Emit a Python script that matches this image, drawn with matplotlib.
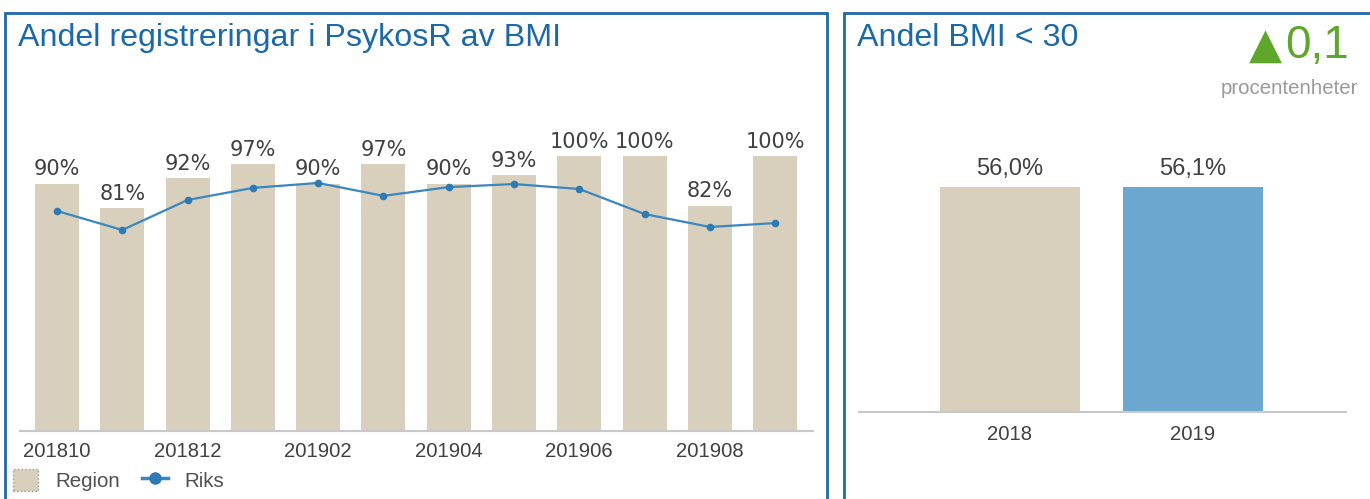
import matplotlib
matplotlib.use("Agg")
import matplotlib.pyplot as plt
from matplotlib.patches import Rectangle
import numpy as np

# data
months = ["201810", "201811", "201812", "201901", "201902", "201903",
          "201904", "201905", "201906", "201907", "201908", "201909"]
region = [90, 81, 92, 97, 90, 97, 90, 93, 100, 100, 82, 100]
riks = [80.0, 73.1, 84.0, 88.4, 90.2, 85.5, 88.7, 89.8, 88.0, 78.9, 74.2, 75.6]
years = ["2018", "2019"]
bmi_share = [56.0, 56.1]
change_text = "0,1"

BEIGE = "#D8D0BC"
BLUE_LINE = "#3A87BF"
BLUE_BAR = "#6BA7CE"
TITLE_BLUE = "#1B69A8"
BORDER_BLUE = "#1F69A6"
TEXT = "#404040"
AXIS_GREY = "#C8C8C8"
GREEN = "#5EA72A"

W, H = 1370, 499
fig = plt.figure(figsize=(W / 100, H / 100), dpi=100)


def px_axes(x0, y0, x1, y1):
    # axes from pixel box (top-left origin)
    return fig.add_axes([x0 / W, 1 - y1 / H, (x1 - x0) / W, (y1 - y0) / H])


# panel borders
fig.patches.append(Rectangle((5 / W, -0.05), (827 - 5) / W, 1.05 - 13 / H,
                             transform=fig.transFigure, fill=False,
                             edgecolor=BORDER_BLUE, linewidth=2))
fig.patches.append(Rectangle((844 / W, -0.05), 0.5, 1.05 - 13 / H,
                             transform=fig.transFigure, fill=False,
                             edgecolor=BORDER_BLUE, linewidth=2))

# ---- left chart ----
ax = px_axes(20, 101, 813, 431)
x = np.arange(len(months))
bars = ax.bar(x, region, width=0.674, color=BEIGE, zorder=2)
line, = ax.plot(x, riks, color=BLUE_LINE, linewidth=1.6, marker="o", markersize=4.5,
                markerfacecolor="#2E7AB5", markeredgecolor="#2E7AB5", zorder=3)
for xi, v in zip(x, region):
    ax.text(xi, v + 1.5, f"{v}%", ha="center", va="bottom", fontsize=15,
            color=TEXT, family="DejaVu Sans")
ax.set_xlim(-0.567, 11.58)
ax.set_ylim(0, 120)
ax.set_xticks(x[::2])
ax.set_xticklabels(months[::2], fontsize=14.6, color=TEXT, family="Liberation Sans")
ax.tick_params(axis="x", length=0, pad=8)
ax.set_yticks([])
for s in ["top", "right", "left"]:
    ax.spines[s].set_visible(False)
ax.spines["bottom"].set_color(AXIS_GREY)
ax.spines["bottom"].set_linewidth(1.5)
ax.patch.set_alpha(0)

leg = fig.legend([bars, line], ["Region", "Riks"], loc="center left",
                 bbox_to_anchor=(13 / W, 1 - 480 / H), ncol=2,
                 frameon=False, prop={"family": "Liberation Sans", "size": 14.8},
                 handlelength=1.23, handleheight=1.23, handletextpad=0.84,
                 columnspacing=1.07, labelcolor="#505050",
                 borderpad=0, borderaxespad=0)
leg.legend_handles[0].set_edgecolor("#999999")
leg.legend_handles[0].set_linestyle(":")
leg.legend_handles[1].set_markersize(8)
leg.legend_handles[1].set_linewidth(2.5)

fig.text(18 / W, 1 - 38 / H, "Andel registreringar i PsykosR av BMI", fontsize=23.2,
         color=TITLE_BLUE, family="Liberation Sans", va="center", ha="left")

# ---- right chart ----
ax2 = px_axes(859, 120, 1346, 412)
xx = np.arange(len(years))
ax2.bar(xx, bmi_share, width=0.77, color=[BEIGE, BLUE_BAR], zorder=2)
for xi, v in zip(xx, bmi_share):
    ax2.text(xi, v + 1.7, f"{v:.1f}%".replace(".", ","), ha="center", va="bottom",
             fontsize=17, color=TEXT, family="Liberation Sans")
ax2.set_xlim(-0.825, 1.836)
ax2.set_ylim(0, 72.7)
ax2.set_xticks(xx)
ax2.set_xticklabels(years, fontsize=14.6, color=TEXT, family="Liberation Sans")
ax2.tick_params(axis="x", length=0, pad=9)
ax2.set_yticks([])
for s in ["top", "right", "left"]:
    ax2.spines[s].set_visible(False)
ax2.spines["bottom"].set_color(AXIS_GREY)
ax2.spines["bottom"].set_linewidth(1.5)
ax2.patch.set_alpha(0)

fig.text(857 / W, 1 - 38 / H, "Andel BMI < 30", fontsize=23.2,
         color=TITLE_BLUE, family="Liberation Sans", va="center", ha="left")
fig.text(1282 / W, 1 - 46 / H, "\u25B2", fontsize=31, color=GREEN,
         family="DejaVu Sans", va="center", ha="right")
fig.text(1349 / W, 1 - 46 / H, change_text, fontsize=33, color=GREEN,
         family="Liberation Sans", va="center", ha="right")
fig.text(1358 / W, 1 - 88 / H, "procentenheter", fontsize=14.7, color="#999999",
         family="Liberation Sans", va="center", ha="right")

fig.savefig("out.png", dpi=100)
